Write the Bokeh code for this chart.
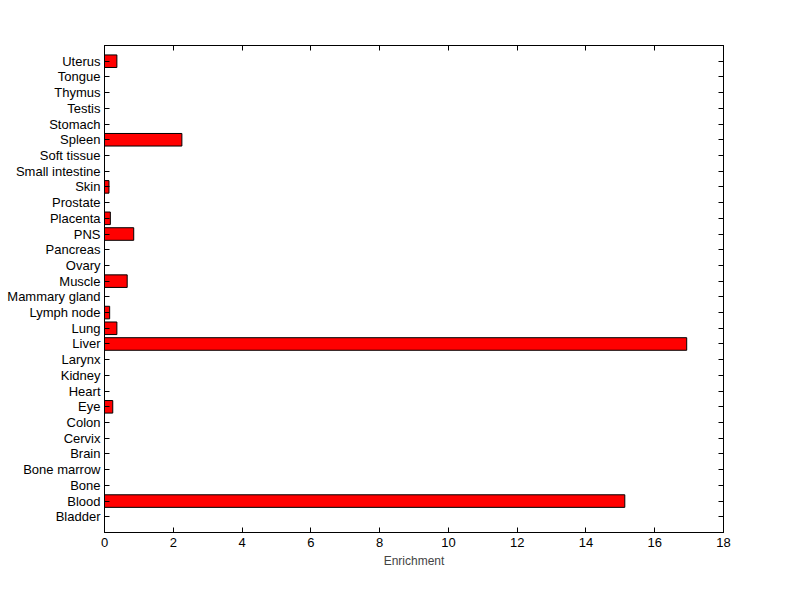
from bokeh.plotting import figure
from bokeh.models import FactorRange, Range1d, LinearAxis, CategoricalAxis, FixedTicker, CustomLabelingPolicy
from bokeh.embed import file_html
from bokeh.resources import INLINE

tissues = ["Bladder", "Blood", "Bone", "Bone marrow", "Brain", "Cervix", "Colon", "Eye",
           "Heart", "Kidney", "Larynx", "Liver", "Lung", "Lymph node", "Mammary gland",
           "Muscle", "Ovary", "Pancreas", "PNS", "Placenta", "Prostate", "Skin",
           "Small intestine", "Soft tissue", "Spleen", "Stomach", "Testis", "Thymus",
           "Tongue", "Uterus"]
enrichment = [0, 15.13, 0, 0, 0, 0, 0, 0.24,
              0, 0, 0, 16.93, 0.36, 0.15, 0,
              0.66, 0, 0, 0.85, 0.17, 0, 0.13,
              0, 0, 2.25, 0, 0, 0,
              0, 0.36]
x_ticks = [0, 2, 4, 6, 8, 10, 12, 14, 16, 18]

FONT = "Liberation Sans"

p = figure(width=792, height=591, output_backend="svg", toolbar_location=None,
           y_range=FactorRange(factors=tissues, range_padding=0.5, range_padding_units="absolute"),
           x_range=Range1d(0, 18),
           min_border_left=104, min_border_right=69, min_border_top=45, min_border_bottom=59)

p.hbar(y=tissues, right=enrichment, left=0, height=0.8,
       fill_color="#ff0000", line_color="black", line_width=1)

p.xgrid.visible = False
p.ygrid.visible = False
p.outline_line_color = "black"
p.outline_line_width = 1
p.background_fill_color = "white"
p.border_fill_color = "white"

def style(ax, show_labels=True):
    ax.major_tick_in = 5
    ax.major_tick_out = 0
    ax.minor_tick_in = 0
    ax.minor_tick_out = 0
    ax.major_tick_line_color = "black"
    ax.axis_line_color = "black"
    ax.major_label_text_font = FONT
    ax.major_label_text_color = "black"
    ax.major_label_text_font_size = "13px"
    if not show_labels:
        ax.major_label_policy = CustomLabelingPolicy(code="return []")
        ax.major_label_text_font_size = "1px"
        ax.major_label_standoff = 0

p.xaxis.ticker = FixedTicker(ticks=x_ticks)
p.xaxis.axis_label = "Enrichment"
p.xaxis.axis_label_text_font = FONT
p.xaxis.axis_label_text_font_size = "12px"
p.xaxis.axis_label_text_font_style = "normal"
p.xaxis.axis_label_standoff = 4
p.xaxis.major_label_standoff = 5
style(p.xaxis[0])
style(p.yaxis[0])
p.yaxis.major_label_standoff = 4

top = LinearAxis(ticker=FixedTicker(ticks=x_ticks))
style(top, False)
p.add_layout(top, "above")

right = CategoricalAxis()
style(right, False)
p.add_layout(right, "right")

open("out.html", "w").write(file_html(p, INLINE))
